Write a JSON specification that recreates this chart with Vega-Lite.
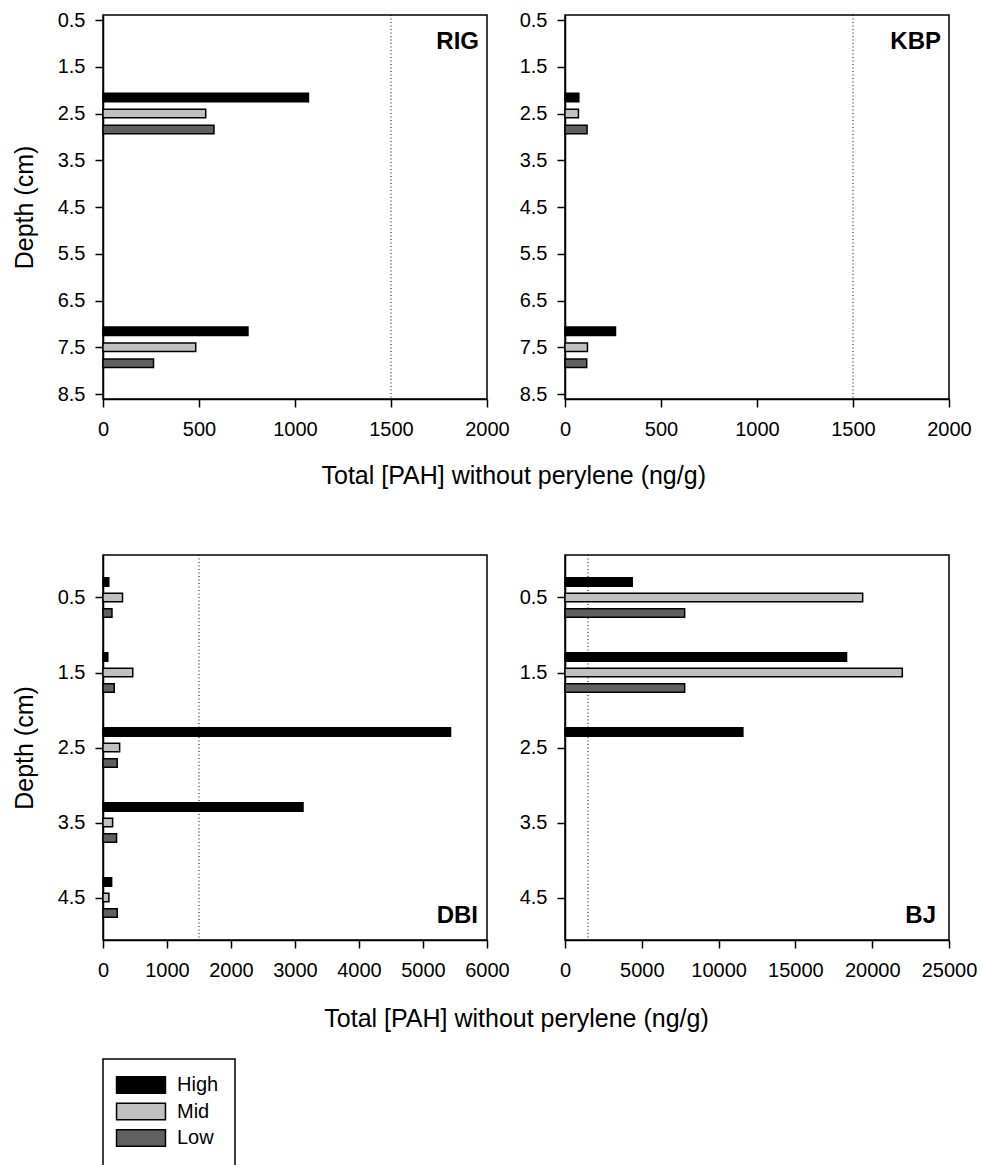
{
  "$schema": "https://vega.github.io/schema/vega-lite/v6.json",
  "background": "white",
  "autosize": {"type": "pad"},
  "padding": {"left": 11, "top": 9, "right": 0, "bottom": 2},
  "datasets": {
    "ref": [{"threshold": 1500}],
    "pah": [
      {"site": "RIG", "depth": 2.5, "level": "High", "pah": 1070},
      {"site": "RIG", "depth": 2.5, "level": "Mid", "pah": 535},
      {"site": "RIG", "depth": 2.5, "level": "Low", "pah": 578},
      {"site": "RIG", "depth": 7.5, "level": "High", "pah": 755},
      {"site": "RIG", "depth": 7.5, "level": "Mid", "pah": 483},
      {"site": "RIG", "depth": 7.5, "level": "Low", "pah": 263},
      {"site": "KBP", "depth": 2.5, "level": "High", "pah": 72},
      {"site": "KBP", "depth": 2.5, "level": "Mid", "pah": 70},
      {"site": "KBP", "depth": 2.5, "level": "Low", "pah": 115},
      {"site": "KBP", "depth": 7.5, "level": "High", "pah": 263},
      {"site": "KBP", "depth": 7.5, "level": "Mid", "pah": 117},
      {"site": "KBP", "depth": 7.5, "level": "Low", "pah": 113},
      {"site": "DBI", "depth": 0.5, "level": "High", "pah": 90},
      {"site": "DBI", "depth": 0.5, "level": "Mid", "pah": 305},
      {"site": "DBI", "depth": 0.5, "level": "Low", "pah": 140},
      {"site": "DBI", "depth": 1.5, "level": "High", "pah": 75},
      {"site": "DBI", "depth": 1.5, "level": "Mid", "pah": 465},
      {"site": "DBI", "depth": 1.5, "level": "Low", "pah": 175},
      {"site": "DBI", "depth": 2.5, "level": "High", "pah": 5430},
      {"site": "DBI", "depth": 2.5, "level": "Mid", "pah": 260},
      {"site": "DBI", "depth": 2.5, "level": "Low", "pah": 222},
      {"site": "DBI", "depth": 3.5, "level": "High", "pah": 3125},
      {"site": "DBI", "depth": 3.5, "level": "Mid", "pah": 150},
      {"site": "DBI", "depth": 3.5, "level": "Low", "pah": 212},
      {"site": "DBI", "depth": 4.5, "level": "High", "pah": 135},
      {"site": "DBI", "depth": 4.5, "level": "Mid", "pah": 92},
      {"site": "DBI", "depth": 4.5, "level": "Low", "pah": 222},
      {"site": "BJ", "depth": 0.5, "level": "High", "pah": 4380},
      {"site": "BJ", "depth": 0.5, "level": "Mid", "pah": 19380},
      {"site": "BJ", "depth": 0.5, "level": "Low", "pah": 7790},
      {"site": "BJ", "depth": 1.5, "level": "High", "pah": 18330},
      {"site": "BJ", "depth": 1.5, "level": "Mid", "pah": 21960},
      {"site": "BJ", "depth": 1.5, "level": "Low", "pah": 7790},
      {"site": "BJ", "depth": 2.5, "level": "High", "pah": 11580}
    ]
  },
  "config": {
    "font": "Liberation Sans",
    "view": {"stroke": "black", "strokeWidth": 1.5},
    "axis": {
      "grid": false,
      "domainColor": "black",
      "domainWidth": 1.5,
      "tickColor": "black",
      "tickWidth": 1.5,
      "tickSize": 8,
      "labelFontSize": 20,
      "labelColor": "black",
      "labelFlush": false,
      "labelOverlap": false,
      "titleFontSize": 25,
      "titleFontWeight": "normal",
      "titleColor": "black"
    },
    "axisX": {"labelPadding": 12},
    "axisY": {"labelPadding": 10, "titlePadding": 20},
    "title": {"fontSize": 25, "fontWeight": "normal", "color": "black", "font": "Liberation Sans"},
    "legend": {
      "orient": "none",
      "legendX": 0,
      "legendY": 1044,
      "title": null,
      "strokeColor": "black",
      "strokeWidth": 1.5,
      "padding": 16,
      "rowPadding": 2.5,
      "labelFontSize": 20,
      "labelColor": "black",
      "labelOffset": 26,
      "symbolOffset": 12,
      "symbolType": "M-3,-1L3,-1L3,1L-3,1Z",
      "symbolSize": 266,
      "symbolStrokeColor": "black",
      "symbolStrokeWidth": 1.5
    }
  },
  "vconcat": [
    {
      "title": {"text": "Total [PAH] without perylene (ng/g)", "orient": "bottom", "anchor": "middle", "offset": 24, "dx": 22},
      "spacing": 8,
      "hconcat": [
        {
          "width": 384, "height": 384,
          "layer": [
            {
              "data": {"name": "ref"},
              "mark": {"type": "rule", "strokeDash": [1, 2.5], "strokeWidth": 1, "color": "black"},
              "encoding": {"x": {"field": "threshold", "type": "quantitative", "scale": {"domain": [0, 2000], "nice": false}}}
            },
            {
              "data": {"name": "pah"},
              "transform": [{"filter": "datum.site === 'RIG'"}],
              "encoding": {
                "x": {"field": "pah", "type": "quantitative", "scale": {"domain": [0, 2000], "nice": false}, "axis": {"values": [0, 500, 1000, 1500, 2000], "format": "d", "title": null}},
                "y": {"field": "depth", "type": "quantitative", "scale": {"domain": [0.5, 8.5], "reverse": true, "nice": false, "zero": false}, "axis": {"values": [0.5, 1.5, 2.5, 3.5, 4.5, 5.5, 6.5, 7.5, 8.5], "format": ".1f", "title": "Depth (cm)"}},
                "color": {"field": "level", "type": "nominal", "scale": {"domain": ["High", "Mid", "Low"], "range": ["#000000", "#c0c0c0", "#606060"]}}
              },
              "layer": [
                {"transform": [{"filter": "datum.level === 'High'"}], "mark": {"type": "bar", "orient": "horizontal", "height": 8.5, "yOffset": -16, "stroke": "black", "strokeWidth": 1.5}},
                {"transform": [{"filter": "datum.level === 'Mid'"}], "mark": {"type": "bar", "orient": "horizontal", "height": 8.5, "yOffset": 0, "stroke": "black", "strokeWidth": 1.5}},
                {"transform": [{"filter": "datum.level === 'Low'"}], "mark": {"type": "bar", "orient": "horizontal", "height": 8.5, "yOffset": 16, "stroke": "black", "strokeWidth": 1.5}}
              ]
            },
            {
              "data": {"values": [{"label": "RIG"}]},
              "mark": {"type": "text", "align": "right", "baseline": "alphabetic", "fontSize": 24, "fontWeight": "bold", "color": "black", "dx": -8, "dy": 29},
              "encoding": {"text": {"field": "label"}, "x": {"datum": 2000}, "y": {"datum": 0.5}}
            }
          ]
        },
        {
          "width": 384, "height": 384,
          "layer": [
            {
              "data": {"name": "ref"},
              "mark": {"type": "rule", "strokeDash": [1, 2.5], "strokeWidth": 1, "color": "black"},
              "encoding": {"x": {"field": "threshold", "type": "quantitative", "scale": {"domain": [0, 2000], "nice": false}}}
            },
            {
              "data": {"name": "pah"},
              "transform": [{"filter": "datum.site === 'KBP'"}],
              "encoding": {
                "x": {"field": "pah", "type": "quantitative", "scale": {"domain": [0, 2000], "nice": false}, "axis": {"values": [0, 500, 1000, 1500, 2000], "format": "d", "title": null}},
                "y": {"field": "depth", "type": "quantitative", "scale": {"domain": [0.5, 8.5], "reverse": true, "nice": false, "zero": false}, "axis": {"values": [0.5, 1.5, 2.5, 3.5, 4.5, 5.5, 6.5, 7.5, 8.5], "format": ".1f", "title": null}},
                "color": {"field": "level", "type": "nominal", "scale": {"domain": ["High", "Mid", "Low"], "range": ["#000000", "#c0c0c0", "#606060"]}}
              },
              "layer": [
                {"transform": [{"filter": "datum.level === 'High'"}], "mark": {"type": "bar", "orient": "horizontal", "height": 8.5, "yOffset": -16, "stroke": "black", "strokeWidth": 1.5}},
                {"transform": [{"filter": "datum.level === 'Mid'"}], "mark": {"type": "bar", "orient": "horizontal", "height": 8.5, "yOffset": 0, "stroke": "black", "strokeWidth": 1.5}},
                {"transform": [{"filter": "datum.level === 'Low'"}], "mark": {"type": "bar", "orient": "horizontal", "height": 8.5, "yOffset": 16, "stroke": "black", "strokeWidth": 1.5}}
              ]
            },
            {
              "data": {"values": [{"label": "KBP"}]},
              "mark": {"type": "text", "align": "right", "baseline": "alphabetic", "fontSize": 24, "fontWeight": "bold", "color": "black", "dx": -8, "dy": 29},
              "encoding": {"text": {"field": "label"}, "x": {"datum": 2000}, "y": {"datum": 0.5}}
            }
          ]
        }
      ]
    },
    {
      "title": {"text": "Total [PAH] without perylene (ng/g)", "orient": "bottom", "anchor": "middle", "offset": 26, "dx": 22},
      "spacing": 8,
      "hconcat": [
        {
          "width": 384, "height": 385,
          "layer": [
            {
              "data": {"name": "ref"},
              "mark": {"type": "rule", "strokeDash": [1, 2.5], "strokeWidth": 1, "color": "black"},
              "encoding": {"x": {"field": "threshold", "type": "quantitative", "scale": {"domain": [0, 6000], "nice": false}}}
            },
            {
              "data": {"name": "pah"},
              "transform": [{"filter": "datum.site === 'DBI'"}],
              "encoding": {
                "x": {"field": "pah", "type": "quantitative", "scale": {"domain": [0, 6000], "nice": false}, "axis": {"values": [0, 1000, 2000, 3000, 4000, 5000, 6000], "format": "d", "title": null}},
                "y": {"field": "depth", "type": "quantitative", "scale": {"domain": [0, 5], "reverse": true, "nice": false, "zero": false}, "axis": {"values": [0.5, 1.5, 2.5, 3.5, 4.5], "format": ".1f", "title": "Depth (cm)"}},
                "color": {"field": "level", "type": "nominal", "scale": {"domain": ["High", "Mid", "Low"], "range": ["#000000", "#c0c0c0", "#606060"]}}
              },
              "layer": [
                {"transform": [{"filter": "datum.level === 'High'"}], "mark": {"type": "bar", "orient": "horizontal", "height": 8.5, "yOffset": -15.4, "stroke": "black", "strokeWidth": 1.5}},
                {"transform": [{"filter": "datum.level === 'Mid'"}], "mark": {"type": "bar", "orient": "horizontal", "height": 8.5, "yOffset": 0, "stroke": "black", "strokeWidth": 1.5}},
                {"transform": [{"filter": "datum.level === 'Low'"}], "mark": {"type": "bar", "orient": "horizontal", "height": 8.5, "yOffset": 15.4, "stroke": "black", "strokeWidth": 1.5}}
              ]
            },
            {
              "data": {"values": [{"label": "DBI"}]},
              "mark": {"type": "text", "align": "right", "baseline": "alphabetic", "fontSize": 24, "fontWeight": "bold", "color": "black", "dx": -9, "dy": -12},
              "encoding": {"text": {"field": "label"}, "x": {"datum": 6000}, "y": {"datum": 5}}
            }
          ]
        },
        {
          "width": 384, "height": 385,
          "layer": [
            {
              "data": {"name": "ref"},
              "mark": {"type": "rule", "strokeDash": [1, 2.5], "strokeWidth": 1, "color": "black"},
              "encoding": {"x": {"field": "threshold", "type": "quantitative", "scale": {"domain": [0, 25000], "nice": false}}}
            },
            {
              "data": {"name": "pah"},
              "transform": [{"filter": "datum.site === 'BJ'"}],
              "encoding": {
                "x": {"field": "pah", "type": "quantitative", "scale": {"domain": [0, 25000], "nice": false}, "axis": {"values": [0, 5000, 10000, 15000, 20000, 25000], "format": "d", "title": null}},
                "y": {"field": "depth", "type": "quantitative", "scale": {"domain": [0, 5], "reverse": true, "nice": false, "zero": false}, "axis": {"values": [0.5, 1.5, 2.5, 3.5, 4.5], "format": ".1f", "title": null}},
                "color": {"field": "level", "type": "nominal", "scale": {"domain": ["High", "Mid", "Low"], "range": ["#000000", "#c0c0c0", "#606060"]}}
              },
              "layer": [
                {"transform": [{"filter": "datum.level === 'High'"}], "mark": {"type": "bar", "orient": "horizontal", "height": 8.5, "yOffset": -15.4, "stroke": "black", "strokeWidth": 1.5}},
                {"transform": [{"filter": "datum.level === 'Mid'"}], "mark": {"type": "bar", "orient": "horizontal", "height": 8.5, "yOffset": 0, "stroke": "black", "strokeWidth": 1.5}},
                {"transform": [{"filter": "datum.level === 'Low'"}], "mark": {"type": "bar", "orient": "horizontal", "height": 8.5, "yOffset": 15.4, "stroke": "black", "strokeWidth": 1.5}}
              ]
            },
            {
              "data": {"values": [{"label": "BJ"}]},
              "mark": {"type": "text", "align": "right", "baseline": "alphabetic", "fontSize": 24, "fontWeight": "bold", "color": "black", "dx": -13, "dy": -12},
              "encoding": {"text": {"field": "label"}, "x": {"datum": 25000}, "y": {"datum": 5}}
            }
          ]
        }
      ]
    }
  ],
  "spacing": 64
}
